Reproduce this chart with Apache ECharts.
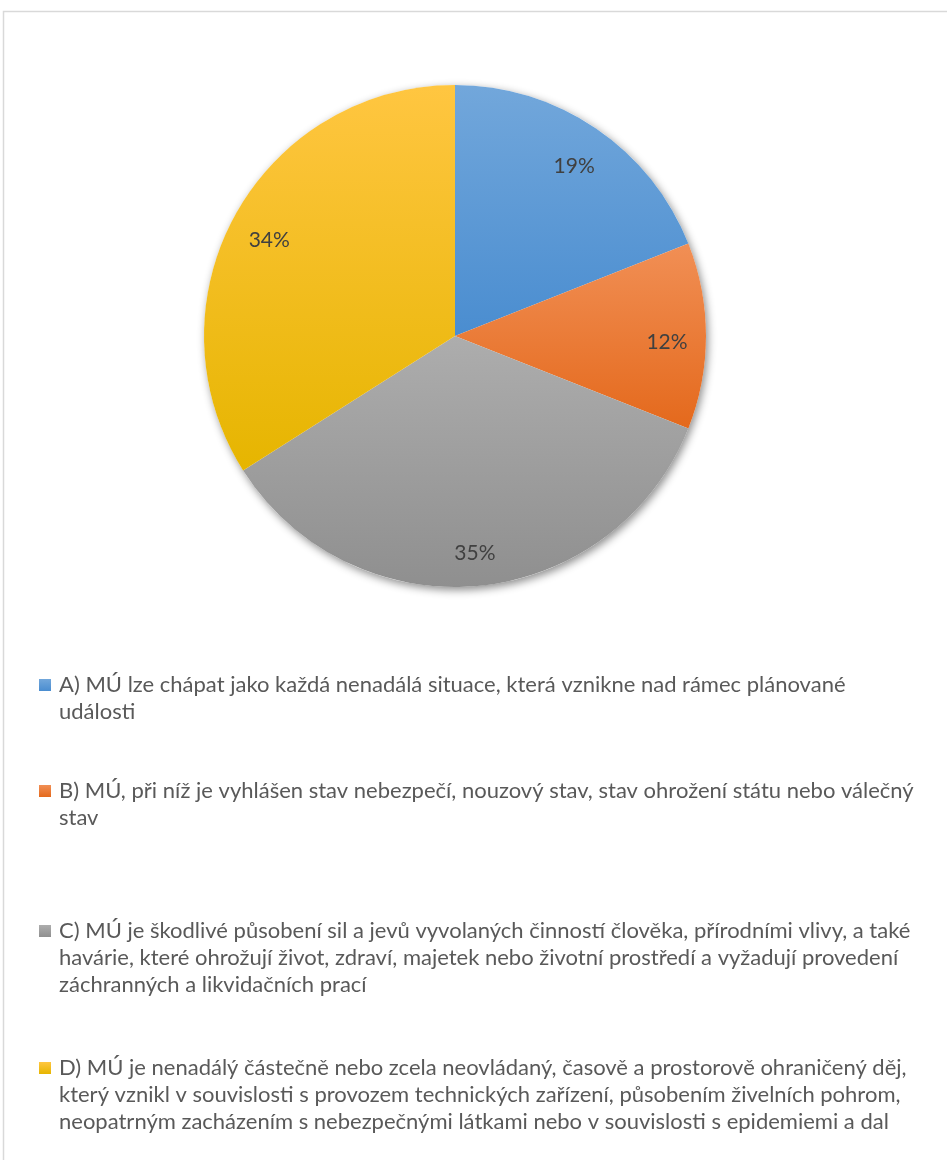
<!DOCTYPE html>
<html>
<head>
<meta charset="utf-8">
<script src="https://cdn.jsdelivr.net/npm/echarts@6/dist/echarts.min.js"></script>
<style>
html,body{margin:0;padding:0;background:#fff;}
#chart{width:947px;height:1160px;}
</style>
</head>
<body>
<div id="chart"></div>
<script>
// ---- data ----
const legendLines = [
  ['A) MÚ lze chápat jako každá nenadálá situace, která vznikne nad rámec plánované', 'události'],
  ['B) MÚ, při níž je vyhlášen stav nebezpečí, nouzový stav, stav ohrožení státu nebo válečný', 'stav'],
  ['C) MÚ je škodlivé působení sil a jevů vyvolaných činností člověka, přírodními vlivy, a také', 'havárie, které ohrožují život, zdraví, majetek nebo životní prostředí a vyžadují provedení', 'záchranných a likvidačních prací'],
  ['D) MÚ je nenadálý částečně nebo zcela neovládaný, časově a prostorově ohraničený děj,', 'který vznikl v souvislosti s provozem technických zařízení, působením živelních pohrom,', 'neopatrným zacházením s nebezpečnými látkami nebo v souvislosti s epidemiemi a dal']
];
const categories = legendLines.map(l => l.join(' '));
const values = [19, 12, 35, 34];

// ---- styles ----
const gradStops = [
  ['#72a7db', '#4a8dd0'],
  ['#f18f55', '#e4691c'],
  ['#adadad', '#8f8f8f'],
  ['#ffc641', '#e6b500']
];
function grad(i) {
  return new echarts.graphic.LinearGradient(0, 0, 0, 1, [
    {offset: 0, color: gradStops[i][0]},
    {offset: 1, color: gradStops[i][1]}
  ]);
}
const CX = 455, CY = 336, R = 251;
const LH = 27;
const FONT = 'Lato';
const legendFirstLineY = [685, 791, 931, 1068];

const chart = echarts.init(document.getElementById('chart'), null, {renderer: 'canvas'});

const legends = categories.map((name, i) => {
  const n = legendLines[i].length;
  const blanks = new Array(n - 1).fill('');
  return {
    orient: 'vertical',
    left: 39,
    top: legendFirstLineY[i] - (2 * n - 1) * LH / 2,
    padding: 0,
    icon: 'rect',
    itemWidth: 12,
    itemHeight: 12,
    selectedMode: false,
    data: [name],
    formatter: () => blanks.concat(legendLines[i]).join('\n'),
    textStyle: {
      fontFamily: FONT,
      fontSize: 22,
      color: '#595959',
      lineHeight: LH,
      padding: [0, 0, 0, 3]
    }
  };
});

chart.setOption({
  backgroundColor: '#ffffff',
  animation: false,
  graphic: [{
    type: 'rect',
    shape: {x: 3.5, y: 11.5, width: 980, height: 1200},
    style: {fill: 'none', stroke: '#d9d9d9', lineWidth: 1.5},
    silent: true,
    z: 0
  }],
  legend: legends,
  series: [
    {
      type: 'pie',
      center: [CX, CY],
      radius: R,
      silent: true,
      z: 1,
      label: {show: false},
      labelLine: {show: false},
      itemStyle: {
        color: '#ffffff',
        shadowBlur: 9,
        shadowColor: 'rgba(0,0,0,0.45)',
        shadowOffsetX: 2,
        shadowOffsetY: 3
      },
      data: [{name: 'shadow', value: 1}]
    },
    {
      type: 'pie',
      center: [CX, CY],
      radius: R,
      startAngle: 90,
      clockwise: true,
      z: 2,
      silent: true,
      label: {show: false},
      labelLine: {show: false},
      itemStyle: {borderWidth: 0},
      data: categories.map((name, i) => ({
        name, value: values[i], itemStyle: {color: grad(i)}
      }))
    },
    {
      type: 'pie',
      center: [CX, CY],
      radius: [167, R],
      startAngle: 90,
      clockwise: true,
      z: 3,
      silent: true,
      itemStyle: {color: 'rgba(0,0,0,0)', borderWidth: 0},
      label: {
        show: true,
        position: 'inside',
        formatter: '{c}%',
        fontFamily: FONT,
        fontSize: 21,
        color: '#404040',
        offset: [0, 6]
      },
      labelLine: {show: false},
      data: categories.map((name, i) => ({name: 'lbl' + i, value: values[i]}))
    }
  ]
});
</script>
</body>
</html>
